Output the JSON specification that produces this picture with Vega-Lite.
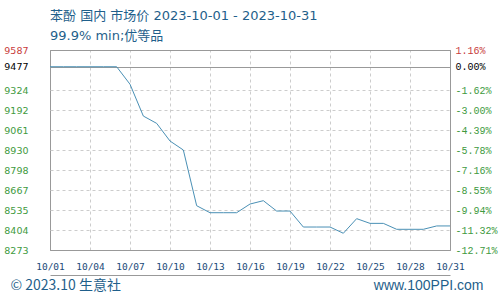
{
  "$schema": "https://vega.github.io/schema/vega-lite/v6.json",
  "width": 400,
  "height": 200,
  "autosize": "none",
  "padding": {"left": 50, "top": 50, "right": 50, "bottom": 50},
  "background": "white",
  "title": {
    "text": "苯酚  国内  市场价  2023-10-01 - 2023-10-31",
    "subtitle": "99.9% min;优等品",
    "anchor": "start",
    "frame": "group",
    "font": "DejaVu Sans, Noto Sans CJK SC",
    "fontSize": 13,
    "fontWeight": "normal",
    "color": "#1f5f8b",
    "subtitleFont": "DejaVu Sans, Noto Sans CJK SC",
    "subtitleFontSize": 13,
    "subtitleColor": "#1f5f8b",
    "subtitlePadding": 7,
    "offset": 2
  },
  "config": {"view": {"stroke": "#999999", "strokeWidth": 1}},
  "data": {
    "values": [
      {"date": "10/01", "price": 9477},
      {"date": "10/02", "price": 9477},
      {"date": "10/03", "price": 9477},
      {"date": "10/04", "price": 9477},
      {"date": "10/05", "price": 9477},
      {"date": "10/06", "price": 9477},
      {"date": "10/07", "price": 9362},
      {"date": "10/08", "price": 9153},
      {"date": "10/09", "price": 9105},
      {"date": "10/10", "price": 8989},
      {"date": "10/11", "price": 8930},
      {"date": "10/12", "price": 8564},
      {"date": "10/13", "price": 8518},
      {"date": "10/14", "price": 8518},
      {"date": "10/15", "price": 8518},
      {"date": "10/16", "price": 8575},
      {"date": "10/17", "price": 8597},
      {"date": "10/18", "price": 8529},
      {"date": "10/19", "price": 8529},
      {"date": "10/20", "price": 8424},
      {"date": "10/21", "price": 8424},
      {"date": "10/22", "price": 8424},
      {"date": "10/23", "price": 8383},
      {"date": "10/24", "price": 8479},
      {"date": "10/25", "price": 8448},
      {"date": "10/26", "price": 8448},
      {"date": "10/27", "price": 8409},
      {"date": "10/28", "price": 8409},
      {"date": "10/29", "price": 8409},
      {"date": "10/30", "price": 8431},
      {"date": "10/31", "price": 8431}
    ]
  },
  "layer": [
    {
      "mark": {"type": "line", "color": "#4a90b5", "strokeWidth": 1},
      "encoding": {
        "x": {
          "field": "date",
          "type": "ordinal",
          "scale": {"type": "point", "padding": 0},
          "axis": {
            "orient": "bottom",
            "offset": 25,
            "values": ["10/01", "10/04", "10/07", "10/10", "10/13", "10/16", "10/19", "10/22", "10/25", "10/28", "10/31"],
            "grid": false,
            "ticks": false,
            "domainColor": "#999999",
            "labelAngle": 0,
            "labelPadding": -14,
            "labelFont": "DejaVu Sans Mono",
            "labelFontSize": 9.5,
            "labelColor": "#1a4a78",
            "title": "© 2023.10 生意社",
            "titleFont": "Noto Sans CJK SC",
            "titleFontSize": 14,
            "titleFontWeight": "normal",
            "titleColor": "#1f5f8b",
            "titleAlign": "left",
            "titleBaseline": "middle",
            "titleAnchor": "start",
            "titleX": -40,
            "titleY": 10
          }
        },
        "y": {
          "field": "price",
          "type": "quantitative",
          "scale": {"domain": [8273, 9587], "zero": false, "nice": false},
          "axis": {
            "orient": "left",
            "values": [8273, 8404, 8535, 8667, 8798, 8930, 9061, 9192, 9324, 9477, 9587],
            "format": "d",
            "title": null,
            "domain": false,
            "ticks": false,
            "labelPadding": 22,
            "labelFont": "DejaVu Sans",
            "labelFontSize": 9.5,
            "labelColor": {
              "condition": [
                {"test": "datum.value == 9587", "value": "#c83c3c"},
                {"test": "datum.value == 9477", "value": "#000000"}
              ],
              "value": "#3e9a3e"
            },
            "grid": true,
            "gridColor": {
              "condition": {"test": "datum.value == 9477 || datum.value == 9587 || datum.value == 8273", "value": "#999999"},
              "value": "#cccccc"
            },
            "gridDash": {
              "condition": {"test": "datum.value == 9477 || datum.value == 9587 || datum.value == 8273", "value": []},
              "value": [3, 3]
            }
          }
        }
      }
    },
    {
      "mark": {"type": "line", "opacity": 0},
      "encoding": {
        "x": {
          "field": "date",
          "type": "ordinal",
          "axis": {
            "orient": "top",
            "values": ["10/01", "10/04", "10/07", "10/10", "10/13", "10/16", "10/19", "10/22", "10/25", "10/28", "10/31"],
            "labels": false,
            "ticks": false,
            "domain": false,
            "grid": true,
            "gridColor": {
              "condition": {"test": "datum.value == '10/01' || datum.value == '10/31'", "value": "#999999"},
              "value": "#cccccc"
            },
            "gridDash": {
              "condition": {"test": "datum.value == '10/01' || datum.value == '10/31'", "value": []},
              "value": [3, 3]
            },
            "title": "www.100PPI.com",
            "titleFont": "Liberation Sans",
            "titleFontSize": 14,
            "titleFontWeight": "normal",
            "titleColor": "#1f5f8b",
            "titleAlign": "right",
            "titleBaseline": "middle",
            "titleAnchor": "end",
            "titleX": 433,
            "titleY": 235
          }
        },
        "y": {
          "field": "price",
          "type": "quantitative",
          "axis": {
            "orient": "right",
            "values": [8273, 8404, 8535, 8667, 8798, 8930, 9061, 9192, 9324, 9477, 9587],
            "title": null,
            "domain": false,
            "ticks": false,
            "grid": false,
            "labelPadding": 5,
            "labelFont": "Liberation Mono",
            "labelFontSize": 10,
            "labelExpr": "datum.value == 8273 ? '-12.71%' : datum.value == 8404 ? '-11.32%' : datum.value == 8535 ? '-9.94%' : datum.value == 8667 ? '-8.55%' : datum.value == 8798 ? '-7.16%' : datum.value == 8930 ? '-5.78%' : datum.value == 9061 ? '-4.39%' : datum.value == 9192 ? '-3.00%' : datum.value == 9324 ? '-1.62%' : datum.value == 9477 ? '0.00%' : '1.16%'",
            "labelColor": {
              "condition": [
                {"test": "datum.value == 9587", "value": "#c83c3c"},
                {"test": "datum.value == 9477", "value": "#000000"}
              ],
              "value": "#3e9a3e"
            }
          }
        }
      }
    }
  ],
  "resolve": {"axis": {"x": "independent", "y": "independent"}}
}
